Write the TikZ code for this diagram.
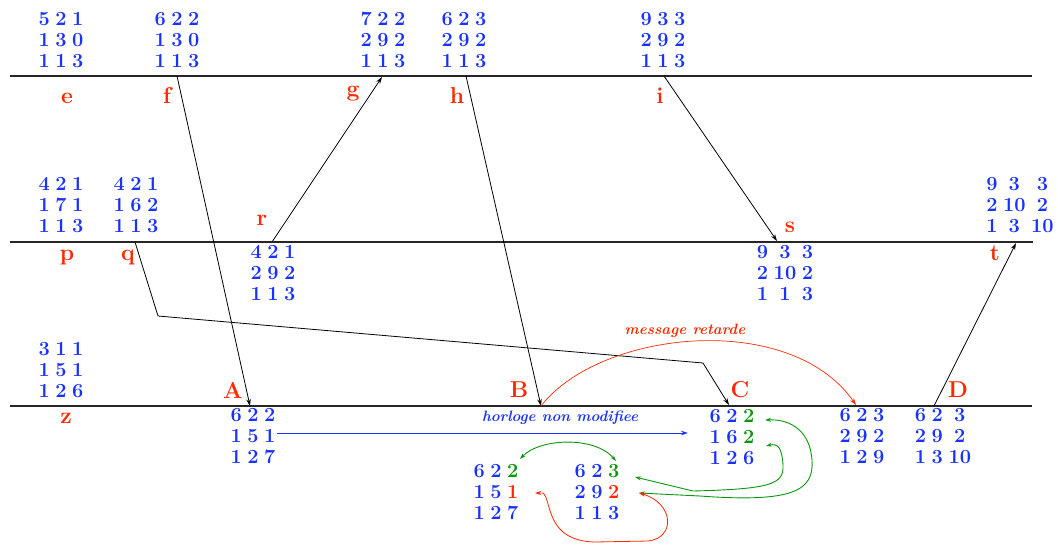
\documentclass[tikz,border=0pt]{standalone}
\usetikzlibrary{arrows.meta}
\definecolor{vblue}{RGB}{25,50,255}
\definecolor{lred}{RGB}{255,40,0}
\definecolor{vgreen}{RGB}{10,150,10}
\newcommand{\vecm}[1]{\begin{tabular}{@{}c@{\hspace{5.5pt}}c@{\hspace{5.5pt}}c@{}}#1\end{tabular}}
\newcommand{\gr}[1]{\textcolor{vgreen}{#1}}
\newcommand{\rd}[1]{\textcolor{lred}{#1}}
\tikzset{
  vec/.style={inner sep=0pt, text=vblue, font=\fontsize{20}{21}\selectfont\bfseries},
  lab/.style={inner sep=0pt, anchor=base, text=lred, font=\fontsize{23}{26}\selectfont\bfseries},
  note/.style={inner sep=0pt, font=\fontsize{15}{17}\selectfont\bfseries\itshape},
  proc/.style={line width=1.6pt, draw=black!85},
  msg/.style={line width=0.8pt, -{Stealth[length=7pt,width=4.5pt]}},
  cmp/.style={line width=0.9pt, {Stealth[length=6pt,width=4pt]}-{Stealth[length=6pt,width=4pt]}},
}
\begin{document}
\begin{tikzpicture}[x=1pt,y=-1pt]
\useasboundingbox (0,0) rectangle (1058,547);
% process lines
\coordinate (L1a) at (10,76);  \coordinate (L1b) at (1032,76);
\coordinate (L2a) at (10,242); \coordinate (L2b) at (1033,242);
\coordinate (L3a) at (10,406); \coordinate (L3b) at (1032,406);
\draw[proc] (L1a) -- (L1b);
\draw[proc] (L2a) -- (L2b);
\draw[proc] (L3a) -- (L3b);
% event points
\coordinate (f) at (177,76);  \coordinate (A) at (250,406);
\coordinate (g) at (382,77);  \coordinate (r) at (272,242);
\coordinate (h) at (466,76);  \coordinate (B) at (541,406);
\coordinate (i) at (664,76);  \coordinate (s) at (777,241);
\coordinate (q) at (135,242); \coordinate (C) at (729,405);
\coordinate (q1) at (158,316); \coordinate (q2) at (703,363);
\coordinate (D) at (934,406); \coordinate (t) at (1016,243);
\coordinate (M) at (856,405);
% labels
\node[lab] (le) at (67,103) {e};
\node[lab] (lf) at (167,103) {f};
\node[lab] (lg) at (353,96) {g};
\node[lab] (lh) at (457,103) {h};
\node[lab] (li) at (660,103) {i};
\node[lab] (lp) at (67,260) {p};
\node[lab] (lq) at (128,260) {q};
\node[lab] (lr) at (262,225) {r};
\node[lab] (ls) at (790,232) {s};
\node[lab] (lt) at (995,260) {t};
\node[lab] (lz) at (66,423) {z};
\node[lab] (lA) at (233,398) {A};
\node[lab] (lB) at (519,397) {B};
\node[lab] (lC) at (740,397) {C};
\node[lab] (lD) at (958,397) {D};
% vectors
\node[vec] (ve) at (61,42) {\vecm{5&2&1\\1&3&0\\1&1&3}};
\node[vec] (vf) at (177,42) {\vecm{6&2&2\\1&3&0\\1&1&3}};
\node[vec] (vg) at (383,42) {\vecm{7&2&2\\2&9&2\\1&1&3}};
\node[vec] (vh) at (464,42) {\vecm{6&2&3\\2&9&2\\1&1&3}};
\node[vec] (vi) at (663,42) {\vecm{9&3&3\\2&9&2\\1&1&3}};
\node[vec] (vp) at (61,207) {\vecm{4&2&1\\1&7&1\\1&1&3}};
\node[vec] (vq) at (136,207) {\vecm{4&2&1\\1&6&2\\1&1&3}};
\node[vec] (vr) at (273,275) {\vecm{4&2&1\\2&9&2\\1&1&3}};
\node[vec] (vs) at (785,275) {\vecm{9&3&3\\2&10&2\\1&1&3}};
\node[vec] (vt) at (1020,207) {\vecm{9&3&3\\2&10&2\\1&3&10}};
\node[vec] (vz) at (61,372) {\vecm{3&1&1\\1&5&1\\1&2&6}};
\node[vec] (vA) at (253,438) {\vecm{6&2&2\\1&5&1\\1&2&7}};
\node[vec] (vC) at (732,439) {\vecm{6&2&\gr{2}\\1&6&\gr{2}\\1&2&6}};
\node[vec] (vM) at (862,438) {\vecm{6&2&3\\2&9&2\\1&2&9}};
\node[vec] (vD) at (943,438) {\vecm{6&2&3\\2&9&2\\1&3&10}};
\node[vec] (vL) at (496,494) {\vecm{6&2&\gr{2}\\1&5&\rd{1}\\1&2&7}};
\node[vec] (vR) at (597,494) {\vecm{6&2&\gr{3}\\2&9&\rd{2}\\1&1&3}};
% messages
\draw[msg] (f) -- (A);
\draw[msg] (r) -- (g);
\draw[msg] (h) -- (B);
\draw[msg] (i) -- (s);
\draw[msg] (q) -- (q1) -- (q2) -- (C);
\draw[msg] (D) -- (t);
% delayed message
\draw[msg, draw=lred, line width=0.7pt] (B) .. controls (600,330) and (790,310) .. (M);
\node[note, text=lred] (nmr) at (685,331) {message retarde};
% clock not modified
\coordinate (hb0) at (277,433); \coordinate (hb1) at (688,433);
\draw[msg, draw=vblue, line width=1pt] (hb0) -- (hb1);
\node[note, text=vblue] (nhm) at (560,418) {horloge non modifiee};
% comparisons
\coordinate (gL) at (520,459); \coordinate (gR) at (616,461);
\draw[cmp, draw=vgreen] (gL) .. controls (540,438) and (595,436) .. (gR);
\coordinate (c1) at (765,420); \coordinate (c2) at (766,446);
\coordinate (r2) at (639,493); \coordinate (g3) at (635,477);
\draw[cmp, draw=vgreen] (r2) -- (700,496) .. controls (795,503) and (814,490) .. (812,460) .. controls (810,432) and (792,419) .. (c1);
\draw[cmp, draw=vgreen] (g3) -- (693,491) .. controls (772,489) and (784,484) .. (783,465) .. controls (782,448) and (778,443) .. (c2);
\coordinate (r1) at (535,493);
\draw[cmp, draw=lred, line width=0.8pt] (r1) -- (543,493) .. controls (552,500) and (545,541) .. (595,542) -- (648,541) .. controls (676,538) and (674,503) .. (r2);
\end{tikzpicture}
\end{document}
